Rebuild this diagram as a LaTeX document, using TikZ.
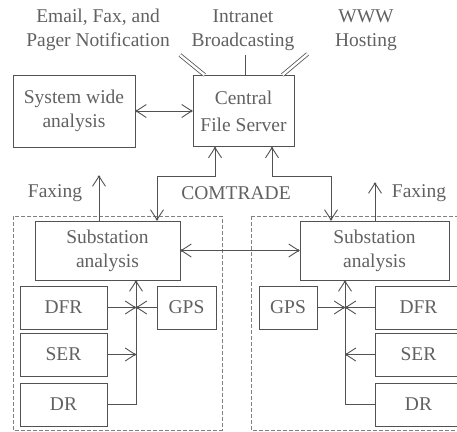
\documentclass[tikz,border=0pt]{standalone}
\usepackage{fontspec}
\setmainfont{Liberation Serif}
\usetikzlibrary{positioning,calc,arrows.meta}

\tikzset{
  >={Straight Barb[length=10pt,width=13pt,sep=-2.4pt] Circle[length=2.4pt]},
  box/.style={draw, line width=1pt, align=center, inner sep=0pt},
  dev/.style={box, minimum width=87pt, minimum height=43pt},
  lbl/.style={align=center},
  link/.style={line width=0.9pt},
  feed/.style={double, double distance=2.4pt, line width=0.8pt},
  zone/.style={draw=black!50, line width=0.6pt, dash pattern=on 4pt off 2pt}
}

\begin{document}
\begin{tikzpicture}[x=1pt, y=-1pt, font=\fontsize{19.5}{24}\selectfont, color=black!68, text=black!62]
  \useasboundingbox (0,0) rectangle (457,431);

  % substation zones
  \draw[zone] (13,216) rectangle (222,430);
  \draw[zone] (251,216) rectangle (480,430);

  % outputs on top
  \node[lbl] (notify) at (98,30) {Email, Fax, and\\Pager Notification};
  \node[lbl] (intranet) at (243,30) {Intranet\\Broadcasting};
  \node[lbl] (www) at (366,30) {WWW\\Hosting};

  \node[box, minimum width=122pt, minimum height=72pt] (sysw) at (74,111) {System wide\\analysis};
  \node[box, minimum width=101pt, minimum height=71pt] (cfs) at (243.5,111) {Central\\[3pt]File Server};

  \coordinate (f1) at (180,55);
  \draw[feed] (f1) -- ([xshift=12pt]cfs.north west);
  \draw[feed] (cfs.north) -- ++(0,-20);
  \draw[feed] ([xshift=-12pt]cfs.north east) -- ++(25,-21);

  \draw[link,<->] (sysw) -- (cfs);

  % substations
  \node[box, minimum width=145pt, minimum height=59pt] (subL) at (107.5,250.5) {Substation\\analysis};
  \node[box, minimum width=149pt, minimum height=59pt] (subR) at (374.5,250.5) {Substation\\analysis};

  \draw[link,<->] ([xshift=-28.5pt]cfs.south) -- ++(0,29) -| ([xshift=49.5pt]subL.north);
  \draw[link,<->] ([xshift=28.5pt]cfs.south) -- ++(0,29) -| ([xshift=-43.5pt]subR.north);
  \node (comtrade) at (236,193) {COMTRADE};

  \draw[link,->] ([xshift=-8.5pt]subL.north) -- ++(0,-45) coordinate (faxL);
  \node (faxLtxt) at (55,193) {Faxing};
  \draw[link,->] ([xshift=0.5pt]subR.north) -- ++(0,-38) coordinate (faxR);
  \node (faxRtxt) at (419,193) {Faxing};

  \draw[link,<->] (subL) -- (subR);

  % left substation devices
  \node[dev] (dfrL) at (63.5,307.5) {DFR};
  \node[dev] (serL) [below=3pt of dfrL] {SER};
  \node[dev] (drL) [below=6pt of serL] {DR};
  \node[box, minimum width=59pt, minimum height=43pt] (gpsL) at (186.5,307.5) {GPS};

  \coordinate (busL) at ([xshift=28.5pt]subL.south);
  \draw[link,->] (drL.east) -| (busL);
  \draw[link,->] (dfrL.east) -- (dfrL.east -| busL);
  \draw[link,->] (serL.east) -- (serL.east -| busL);
  \draw[link,->] (gpsL.west) -- (gpsL.west -| busL);

  % right substation devices
  \node[dev] (dfrR) at (418.5,307.5) {DFR};
  \node[dev] (serR) [below=3pt of dfrR] {SER};
  \node[dev] (drR) [below=6pt of serR] {DR};
  \node[box, minimum width=58pt, minimum height=43pt] (gpsR) at (288,307.5) {GPS};

  \coordinate (busR) at ([xshift=-29.5pt]subR.south);
  \draw[link,->] (drR.west) -| (busR);
  \draw[link,->] (dfrR.west) -- (dfrR.west -| busR);
  \draw[link,->] (serR.west) -- (serR.west -| busR);
  \draw[link,->] (gpsR.east) -- (gpsR.east -| busR);
\end{tikzpicture}
\end{document}
